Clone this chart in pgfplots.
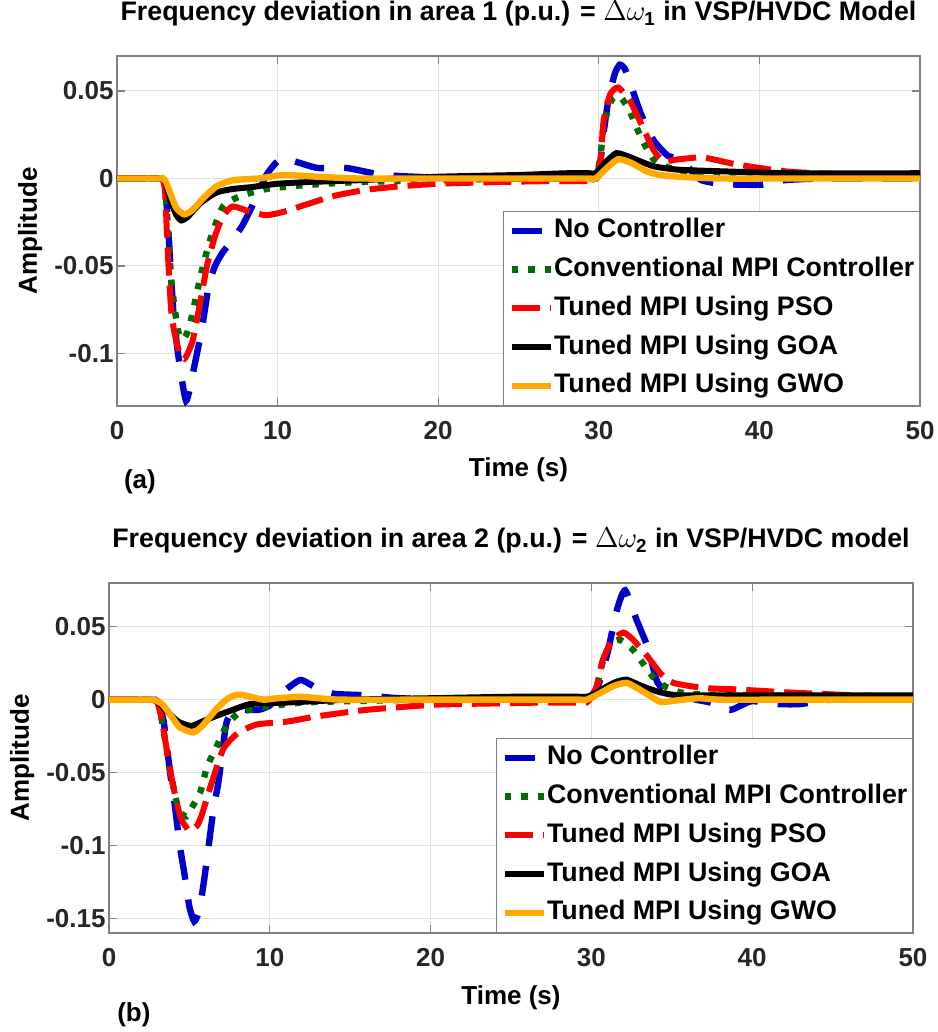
\documentclass[border=0pt]{standalone}
\usepackage{fontspec}
\setmainfont{Liberation Sans}
\usepackage{pgfplots}
\pgfplotsset{compat=1.18}
\definecolor{mblue}{RGB}{0,0,204}
\definecolor{mgreen}{RGB}{0,110,0}
\definecolor{mred}{RGB}{255,0,0}
\definecolor{morange}{RGB}{255,170,0}
\definecolor{tickc}{RGB}{38,38,38}
\newcommand{\lab}{\fontsize{13}{15}\selectfont\bfseries}
\newcommand{\tit}{\fontsize{13.4}{15}\selectfont\bfseries}
\pgfplotsset{
  mstyle/.style={
    scale only axis, height=175pt,
    xmin=0, xmax=50, xtick={0,10,20,30,40,50},
    grid=major, major grid style={black!12, line width=0.5pt},
    axis line style={black!50, line width=0.6pt},
    tick align=inside, major tick length=4pt, tick style={black!50, line width=0.6pt},
    every tick label/.append style={font=\lab, text=tickc},
    /pgf/number format/assume math mode=true,
    xticklabel style={yshift=-4pt},
    yticklabel style={xshift=1.8pt},
    xlabel={Time (s)}, ylabel={Amplitude},
    xlabel style={at={(axis description cs:0.5,0)}, anchor=base, yshift=-35.5pt, font=\lab, text=black},
    ylabel style={at={(axis description cs:-0.108,0.5)}, anchor=center, font=\lab, text=black},
    title style={at={(axis description cs:0.5,1)}, anchor=base, yshift=11.5pt, font=\tit, text=black},
    legend style={at={(1,0)}, anchor=south east, draw=black!50, line width=0.6pt, fill=white,
      font=\tit, inner xsep=2.5pt, inner ysep=3.2pt, row sep=6.4pt,
      nodes={inner sep=0pt, text height=10pt, text depth=3pt},
      /tikz/every even column/.style={column sep=2pt}},
    legend cell align=left,
    legend image code/.code={\draw[#1] (0pt,0pt) -- (19.5pt,0pt);},
    clip mode=individual,
  },
  sblue/.style={color=mblue, line width=3.2pt, dash pattern=on 15pt off 10pt, smooth, tension=0.35},
  sgreen/.style={color=mgreen, line width=3.2pt, dash pattern=on 3.2pt off 5pt, smooth, tension=0.35},
  sred/.style={color=mred, line width=3.0pt, dash pattern=on 14pt off 5pt, smooth, tension=0.35},
  sblack/.style={color=black, line width=3.0pt, smooth, tension=0.35},
  sorange/.style={color=morange, line width=3.2pt, smooth, tension=0.35},
}
\begin{document}
\begin{tikzpicture}
\useasboundingbox (0,0) rectangle (468.5pt,516pt);
% ---------------- (a)
\begin{axis}[mstyle, at={(58.5pt,313pt)}, anchor=south west, width=401.5pt,
  ymin=-0.13, ymax=0.07, ytick={-0.1,-0.05,0,0.05}, yticklabels={-0.1,-0.05,0,0.05},
  title={Frequency deviation in area 1 (p.u.) = $\Delta\omega_{\mathbf{1}}$ in VSP/HVDC Model}]
\addplot[sblue] coordinates {(0,0) (1.5,0) (2.6,0) (2.85,0) (3,-0.004) (3.2,-0.03) (3.5,-0.075) (3.8,-0.1) (4.3,-0.127) (4.8,-0.108) (5.3,-0.085) (5.7,-0.062) (6.1,-0.05) (6.6,-0.042) (7.2,-0.035) (7.8,-0.027) (8.3,-0.018) (8.8,-0.008) (9.3,0.002) (9.9,0.009) (10.4,0.012) (11,0.010) (12.5,0.006) (14.3,0.006) (16.6,0.002) (20,0.0005) (25,0) (28,0) (29.4,0) (29.8,0) (30.1,0.01) (30.3,0.026) (30.6,0.045) (31,0.06) (31.3,0.065) (31.6,0.063) (31.9,0.056) (32.6,0.0375) (33.4,0.022) (34.3,0.013) (35.2,0.011) (35.8,0.004) (36.4,-0.001) (37.5,-0.003) (38.6,-0.0035) (40.2,-0.0035) (41.5,-0.001) (44,0) (50,0)};
\addlegendentry{No Controller}
\addplot[sgreen] coordinates {(0,0) (1.5,0) (2.6,0) (2.85,0) (3,-0.004) (3.15,-0.025) (3.4,-0.06) (3.8,-0.087) (4.1,-0.092) (4.5,-0.085) (5.2,-0.056) (5.8,-0.035) (6.6,-0.016) (7.7,-0.010) (9.3,-0.006) (11.4,-0.004) (15,-0.002) (20,-0.001) (25,0) (28,0) (29.4,0) (29.8,0) (30.1,0.012) (30.3,0.03) (30.8,0.045) (31.3,0.047) (31.9,0.039) (32.6,0.024) (33.4,0.011) (34.4,0.006) (36,0.003) (40,0.002) (50,0.001)};
\addlegendentry{Conventional MPI Controller}
\addplot[sred] coordinates {(0,0) (1.5,0) (2.6,0) (2.85,-0.001) (3,-0.008) (3.15,-0.04) (3.4,-0.078) (3.8,-0.097) (4.2,-0.103) (4.7,-0.093) (5.2,-0.070) (5.6,-0.05) (6.1,-0.033) (6.6,-0.0215) (7.2,-0.016) (8.3,-0.019) (9.3,-0.021) (10.4,-0.019) (11.4,-0.016) (13.5,-0.010) (15.5,-0.0065) (17.6,-0.0045) (20,-0.003) (23.8,-0.002) (27,-0.0015) (29.4,-0.0015) (29.8,-0.0015) (30.1,0.01) (30.3,0.033) (30.7,0.048) (31.2,0.052) (31.9,0.045) (32.6,0.032) (33.4,0.0165) (34,0.010) (35,0.011) (36.5,0.012) (38.6,0.008) (41.7,0.004) (45.8,0.002) (50,0.001)};
\addlegendentry{Tuned MPI Using PSO}
\addplot[sblack] coordinates {(0,0) (1.5,0) (2.6,0) (2.85,0) (3.05,-0.003) (3.3,-0.012) (3.7,-0.021) (4.0,-0.024) (4.4,-0.022) (5.2,-0.014) (6.2,-0.008) (7.2,-0.006) (8.3,-0.005) (10,-0.003) (12,-0.002) (15,-0.001) (20,0.001) (25,0.002) (28,0.003) (29.4,0.003) (29.8,0.003) (30.4,0.009) (31.1,0.0145) (32,0.012) (33.4,0.007) (35,0.005) (38,0.004) (42,0.003) (50,0.003)};
\addlegendentry{Tuned MPI Using GOA}
\addplot[sorange] coordinates {(0,0) (1.5,0) (2.6,0) (2.85,0) (3.05,-0.002) (3.3,-0.008) (3.7,-0.017) (4.2,-0.0205) (4.7,-0.018) (5.4,-0.011) (6.2,-0.0045) (7.2,-0.001) (8.8,0) (10.4,0.002) (12.5,0.001) (15,0) (20,0) (25,0) (28,0) (29.4,0) (29.8,0) (30.5,0.006) (31.2,0.011) (32,0.009) (33,0.004) (33.8,0.002) (35,0.001) (37.5,0) (42,0) (50,0)};
\addlegendentry{Tuned MPI Using GWO}
\node[font=\lab, text=black] at (rel axis cs:0.0286,-0.217) {(a)};
\end{axis}
% ---------------- (b)
\begin{axis}[mstyle, at={(54.5pt,49.5pt)}, anchor=south west, width=402pt,
  ymin=-0.16, ymax=0.08, ytick={-0.15,-0.1,-0.05,0,0.05}, yticklabels={-0.15,-0.1,-0.05,0,0.05},
  title={Frequency deviation in area 2 (p.u.) = $\Delta\omega_{\mathbf{2}}$ in VSP/HVDC model}]
\addplot[sblue] coordinates {(0,0) (1.5,0) (2.6,0) (2.9,0) (3.05,-0.002) (3.4,-0.015) (3.8,-0.05) (4.1,-0.073) (4.4,-0.1) (4.7,-0.12) (5.0,-0.142) (5.3,-0.152) (5.6,-0.145) (5.9,-0.125) (6.2,-0.1) (6.5,-0.075) (6.8,-0.057) (7.0,-0.04) (7.3,-0.016) (7.7,-0.008) (8.5,-0.007) (9.3,-0.007) (10,-0.004) (10.8,0.005) (11.9,0.0135) (12.9,0.008) (14,0.004) (16,0.003) (18,0.001) (22,0) (26,0) (29.2,0) (29.7,0) (30.1,0.004) (30.5,0.012) (31,0.032) (31.6,0.062) (32.1,0.075) (32.8,0.055) (33.5,0.036) (34.1,0.012) (34.8,0.005) (35.5,0.003) (36.5,0.0) (37.4,-0.002) (38.6,-0.007) (39.3,-0.004) (40,-0.001) (41.6,-0.003) (43,-0.003) (45,0) (50,0)};
\addlegendentry{No Controller}
\addplot[sgreen] coordinates {(0,0) (1.5,0) (2.6,0) (2.9,0) (3.05,-0.002) (3.3,-0.015) (3.8,-0.048) (4.2,-0.07) (4.5,-0.078) (4.8,-0.08) (5.2,-0.073) (5.66,-0.064) (6.1,-0.046) (6.7,-0.032) (7.3,-0.018) (8.1,-0.009) (9.7,-0.005) (12,-0.002) (15,-0.001) (20,0) (25,0) (29.2,0) (29.7,0) (30.1,0.004) (30.4,0.012) (30.8,0.03) (31.3,0.039) (31.8,0.041) (32.6,0.034) (33.2,0.025) (33.8,0.016) (34.6,0.009) (36,0.004) (40,0.003) (50,0.002)};
\addlegendentry{Conventional MPI Controller}
\addplot[sred] coordinates {(0,0) (1.5,0) (2.6,0) (2.9,-0.001) (3.05,-0.003) (3.3,-0.015) (3.8,-0.048) (4.2,-0.07) (4.5,-0.082) (5.0,-0.09) (5.5,-0.086) (5.8,-0.078) (6.3,-0.06) (7.1,-0.034) (8.0,-0.023) (9.2,-0.017) (11.1,-0.015) (12.9,-0.0115) (16,-0.007) (20.2,-0.0035) (24.4,-0.0025) (27,-0.002) (29.2,-0.002) (29.7,-0.002) (30.1,0.003) (30.4,0.012) (30.7,0.027) (31.3,0.041) (32,0.046) (32.6,0.041) (33.5,0.0295) (34.3,0.018) (35.1,0.0115) (37,0.008) (39.1,0.007) (42.2,0.005) (46.3,0.003) (50,0.002)};
\addlegendentry{Tuned MPI Using PSO}
\addplot[sblack] coordinates {(0,0) (1.5,0) (2.6,0) (2.9,0) (3.1,-0.002) (3.6,-0.008) (4.3,-0.015) (5.1,-0.018) (5.8,-0.015) (6.7,-0.011) (7.7,-0.007) (8.8,-0.003) (11,-0.002) (15,0) (20,0.001) (25,0.002) (29.2,0.002) (29.7,0.002) (30.2,0.004) (30.8,0.008) (31.5,0.012) (32.2,0.0137) (33.2,0.009) (34.3,0.005) (35.5,0.003) (40,0.003) (50,0.003)};
\addlegendentry{Tuned MPI Using GOA}
\addplot[sorange] coordinates {(0,0) (1.5,0) (2.5,0) (2.8,0) (3.3,-0.003) (3.8,-0.01) (4.4,-0.019) (5.25,-0.0225) (5.8,-0.018) (6.3,-0.0115) (6.8,-0.005) (7.3,0) (7.7,0.0025) (8.15,0.0034) (8.8,0.002) (9.6,0.0) (10.5,0.001) (11.9,0.002) (13,0.001) (14.5,0) (20,0) (25,0) (29.2,0) (29.7,0) (30.3,0.003) (31.3,0.009) (32.2,0.0115) (33.3,0.005) (34.3,-0.0015) (35.3,-0.0005) (36.7,0.001) (38,0) (42,0) (50,0)};
\addlegendentry{Tuned MPI Using GWO}
\node[font=\lab, text=black] at (rel axis cs:0.031,-0.234) {(b)};
\end{axis}
\end{tikzpicture}
\end{document}
